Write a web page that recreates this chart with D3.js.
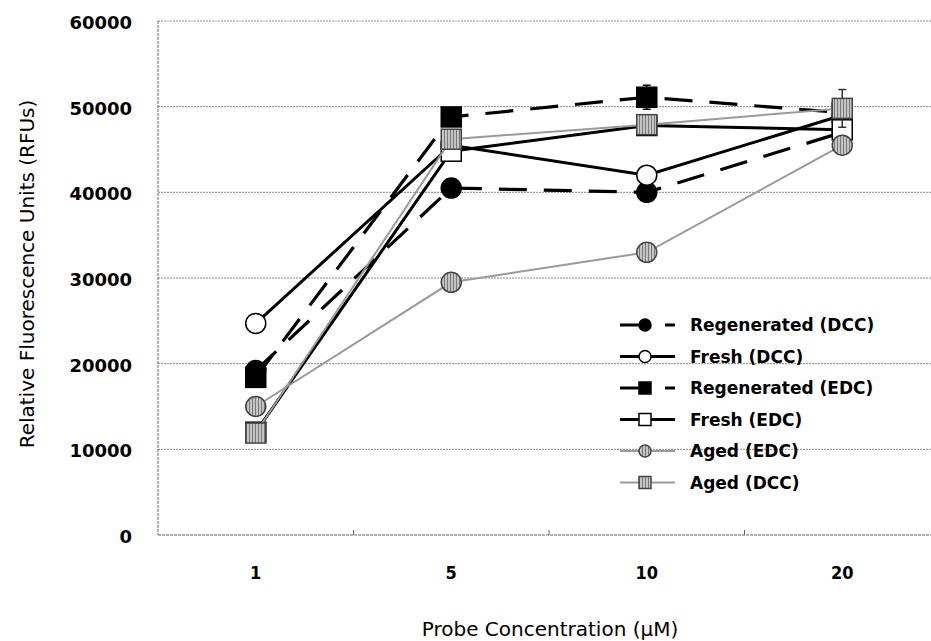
<!DOCTYPE html>
<html>
<head>
<meta charset="utf-8">
<script src="https://cdn.jsdelivr.net/npm/d3@7"></script>
<style>
  html, body { margin: 0; padding: 0; background: #fff; }
  svg { display: block; }
</style>
</head>
<body>
<svg id="chart" width="931" height="641"></svg>
<script>
// ---- data ----
const categories = ["1", "5", "10", "20"];
const yTicks = [0, 10000, 20000, 30000, 40000, 50000, 60000];
const seriesNames = ["Regenerated (DCC)", "Fresh (DCC)", "Regenerated (EDC)", "Fresh (EDC)", "Aged (EDC)", "Aged (DCC)"];
const regenDCC = [19200, 40500, 40000, 47000];
const freshDCC = [24700, 45500, 42000, 49000];
const regenEDC = [18400, 48800, 51100, 49300];
const freshEDC = [12000, 44800, 47800, 47300];
const agedEDC  = [15000, 29500, 33000, 45500];
const agedDCC  = [11900, 46200, 47900, 49800];
const regenDCCErr = [0, 0, 1000, 0];
const freshDCCErr = [0, 0, 0, 0];
const regenEDCErr = [0, 0, 1400, 0];
const freshEDCErr = [0, 0, 0, 0];
const agedEDCErr  = [0, 0, 800, 0];
const agedDCCErr  = [0, 0, 0, 2200];

// ---- styles ----
const styles = [
  { values: regenDCC, err: regenDCCErr, shape: "circle", fill: "#000", stroke: "#000", line: "#000", lw: 3.2, dash: "28,17", gray: false },
  { values: freshDCC, err: freshDCCErr, shape: "circle", fill: "#fff", stroke: "#000", line: "#000", lw: 3, dash: null, gray: false },
  { values: regenEDC, err: regenEDCErr, shape: "square", fill: "#000", stroke: "#000", line: "#000", lw: 3.2, dash: "28,17", gray: false },
  { values: freshEDC, err: freshEDCErr, shape: "square", fill: "#fff", stroke: "#000", line: "#000", lw: 3, dash: null, gray: false },
  { values: agedEDC,  err: agedEDCErr,  shape: "circle", fill: "url(#hatch)", stroke: "#444", line: "#9a9a9a", lw: 2, dash: null, gray: true },
  { values: agedDCC,  err: agedDCCErr,  shape: "square", fill: "url(#hatch)", stroke: "#444", line: "#9a9a9a", lw: 2, dash: null, gray: true }
];

const svg = d3.select("#chart");
svg.append("rect").attr("width", 931).attr("height", 641).attr("fill", "#fff");

const defs = svg.append("defs");
const pat = defs.append("pattern").attr("id", "hatch").attr("patternUnits", "userSpaceOnUse")
  .attr("width", 3).attr("height", 3);
pat.append("rect").attr("width", 3).attr("height", 3).attr("fill", "#c4c4c4");
pat.append("rect").attr("width", 1).attr("height", 3).attr("fill", "#7a7a7a");

const x = d3.scaleBand().domain(categories).range([158, 940]).paddingInner(0).paddingOuter(0);
const cx = c => x(c) + x.bandwidth() / 2;
const y = d3.scaleLinear().domain([0, 60000]).range([535, 21]);

// gridlines
svg.append("g").selectAll("line").data(yTicks.filter(t => t > 0)).join("line")
  .attr("x1", 158).attr("x2", 931)
  .attr("y1", d => y(d)).attr("y2", d => y(d))
  .attr("stroke", "#8a8a8a").attr("stroke-width", 1).attr("stroke-dasharray", "2,1");

// axis lines
svg.append("line").attr("x1", 158).attr("x2", 158).attr("y1", y(60000)).attr("y2", y(0))
  .attr("stroke", "#666").attr("stroke-width", 1).attr("stroke-dasharray", "3,1");
svg.append("line").attr("x1", 158).attr("x2", 931).attr("y1", y(0)).attr("y2", y(0))
  .attr("stroke", "#666").attr("stroke-width", 1).attr("stroke-dasharray", "3,1");

// x tick marks at band boundaries
svg.append("g").selectAll("line").data(categories.slice(1)).join("line")
  .attr("x1", d => x(d)).attr("x2", d => x(d))
  .attr("y1", y(0)).attr("y2", y(0) - 5)
  .attr("stroke", "#666").attr("stroke-width", 1);

// y tick labels
svg.append("g").selectAll("text").data(yTicks).join("text")
  .attr("x", 132).attr("y", d => y(d) + 3)
  .attr("text-anchor", "end").attr("dominant-baseline", "middle")
  .attr("font-family", "DejaVu Sans").attr("font-weight", "bold").attr("font-size", 18)
  .attr("fill", "#000")
  .text(d => d);

// x tick labels
svg.append("g").selectAll("text").data(categories).join("text")
  .attr("x", d => cx(d)).attr("y", 574)
  .attr("text-anchor", "middle").attr("dominant-baseline", "middle")
  .attr("font-family", "DejaVu Sans Condensed").attr("font-weight", "bold").attr("font-size", 18)
  .attr("fill", "#000")
  .text(d => d);

// axis titles
svg.append("text").attr("x", 550).attr("y", 630)
  .attr("text-anchor", "middle").attr("dominant-baseline", "middle")
  .attr("font-family", "DejaVu Sans").attr("font-size", 20).attr("fill", "#000")
  .text("Probe Concentration (\u00b5M)");
svg.append("text").attr("transform", "translate(28,274) rotate(-90)")
  .attr("text-anchor", "middle").attr("dominant-baseline", "middle")
  .attr("font-family", "DejaVu Sans").attr("font-size", 20).attr("fill", "#000")
  .text("Relative Fluorescence Units (RFUs)");

// series
const line = d3.line().x((d, i) => cx(categories[i])).y(d => y(d));
const plot = svg.append("g");

function drawMarker(g, shape, px, py, size, st) {
  if (shape === "circle") {
    g.append("circle").attr("cx", px).attr("cy", py).attr("r", size / 2)
      .attr("fill", st.fill).attr("stroke", st.stroke).attr("stroke-width", 1.5);
  } else {
    g.append("rect").attr("x", px - size / 2).attr("y", py - size / 2)
      .attr("width", size).attr("height", size)
      .attr("fill", st.fill).attr("stroke", st.stroke).attr("stroke-width", 1.5);
  }
}

styles.forEach(st => {
  const g = plot.append("g");
  g.append("path").datum(st.values).attr("d", line)
    .attr("fill", "none").attr("stroke", st.line).attr("stroke-width", st.lw)
    .attr("stroke-dasharray", st.dash);
  st.values.forEach((v, i) => {
    const e = st.err[i];
    if (!e) return;
    const px = cx(categories[i]);
    const col = st.gray ? "#333" : "#000";
    g.append("line").attr("x1", px).attr("x2", px).attr("y1", y(v - e)).attr("y2", y(v + e))
      .attr("stroke", col).attr("stroke-width", 1.5);
    [v - e, v + e].forEach(w => g.append("line").attr("x1", px - 4).attr("x2", px + 4)
      .attr("y1", y(w)).attr("y2", y(w)).attr("stroke", col).attr("stroke-width", 1.5));
  });
  st.values.forEach((v, i) => drawMarker(g, st.shape, cx(categories[i]), y(v), 20, st));
});

// legend
const legend = svg.append("g");
styles.forEach((st, i) => {
  const ly = 325 + i * 31.5;
  legend.append("line").attr("x1", 620).attr("x2", 675).attr("y1", ly).attr("y2", ly)
    .attr("stroke", st.line).attr("stroke-width", st.lw).attr("stroke-dasharray", st.dash);
  drawMarker(legend, st.shape, 645, ly, 12, st);
  legend.append("text").attr("x", 690).attr("y", ly + 1)
    .attr("dominant-baseline", "middle")
    .attr("font-family", "DejaVu Sans").attr("font-weight", "bold").attr("font-size", 17)
    .attr("fill", "#000").text(seriesNames[i]);
});
</script>
</body>
</html>
